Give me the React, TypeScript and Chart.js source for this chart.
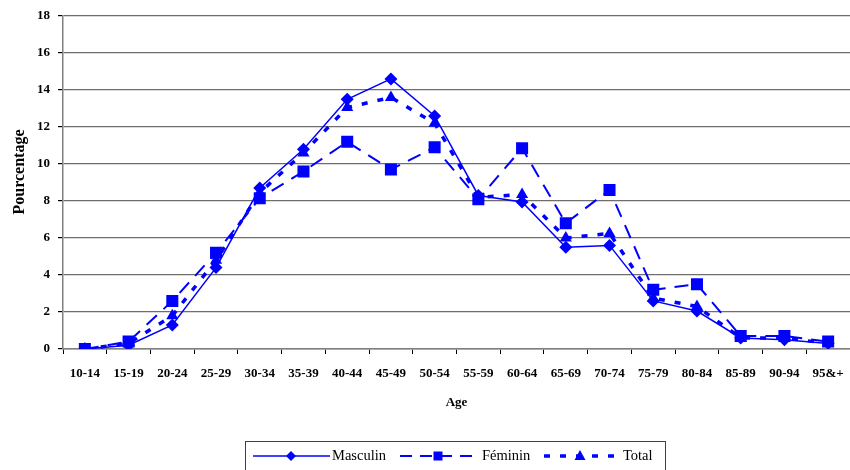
import React, { useEffect, useRef } from "react";
import { Chart, registerables } from "chart.js";

Chart.register(...registerables);

const categories = ["10-14", "15-19", "20-24", "25-29", "30-34", "35-39", "40-44", "45-49", "50-54", "55-59", "60-64", "65-69", "70-74", "75-79", "80-84", "85-89", "90-94", "95&+"];
const masculin = [0.0, 0.2, 1.3, 4.4, 8.7, 10.8, 13.5, 14.6, 12.6, 8.3, 7.95, 5.5, 5.6, 2.6, 2.05, 0.6, 0.5, 0.3];
const feminin = [0.0, 0.4, 2.6, 5.2, 8.15, 9.6, 11.2, 9.7, 10.9, 8.1, 10.85, 6.8, 8.6, 3.2, 3.5, 0.7, 0.7, 0.4];
const total = [0.0, 0.3, 1.8, 4.8, 8.45, 10.6, 13.05, 13.6, 12.2, 8.2, 8.35, 6.0, 6.25, 2.75, 2.3, 0.6, 0.6, 0.3];
const yTicks = [0, 2, 4, 6, 8, 10, 12, 14, 16, 18];
const legendLabels = ["Masculin", "Féminin", "Total"];
const xTitle = "Age";
const yTitle = "Pourcentage";

const BLUE = "#0000ff";
const SERIF = "'Liberation Serif', 'Times New Roman', serif";

const overlayPlugin = {
  id: "overlay",
  afterDraw(chart: any) {
    const ctx = chart.ctx as CanvasRenderingContext2D;
    const area = chart.chartArea;
    ctx.save();
    ctx.fillStyle = "#000";
    ctx.font = `bold 13px ${SERIF}`;
    ctx.textAlign = "center";
    ctx.textBaseline = "middle";
    ctx.fillText(xTitle, (area.left + area.right) / 2, 403);
    ctx.save();
    ctx.translate(20, 172);
    ctx.rotate(-Math.PI / 2);
    ctx.font = `bold 16px ${SERIF}`;
    ctx.fillText(yTitle, 0, 0);
    ctx.restore();

    ctx.strokeStyle = "#404040";
    ctx.lineWidth = 1;
    ctx.strokeRect(245.5, 441.5, 420, 40);

    const y = 456;
    const items = [
      { x0: 253, x1: 330, mx: 291, tx: 332, dash: [] as number[], w: 1.5, marker: "diamond" },
      { x0: 400, x1: 480, mx: 438, tx: 482, dash: [12, 8], w: 2, marker: "square" },
      { x0: 544, x1: 620, mx: 580, tx: 623, dash: [6, 10], w: 3.5, marker: "triangle" },
    ];
    items.forEach((it, i) => {
      ctx.strokeStyle = BLUE;
      ctx.lineWidth = it.w;
      ctx.setLineDash(it.dash);
      ctx.beginPath();
      ctx.moveTo(it.x0, y);
      ctx.lineTo(it.x1, y);
      ctx.stroke();
      ctx.setLineDash([]);
      ctx.fillStyle = BLUE;
      ctx.beginPath();
      if (it.marker === "diamond") {
        ctx.moveTo(it.mx, y - 5);
        ctx.lineTo(it.mx + 5, y);
        ctx.lineTo(it.mx, y + 5);
        ctx.lineTo(it.mx - 5, y);
      } else if (it.marker === "square") {
        ctx.rect(it.mx - 4.5, y - 4.5, 9, 9);
      } else {
        ctx.moveTo(it.mx, y - 6);
        ctx.lineTo(it.mx + 5.5, y + 4);
        ctx.lineTo(it.mx - 5.5, y + 4);
      }
      ctx.closePath();
      ctx.fill();
      ctx.fillStyle = "#000";
      ctx.font = `14.5px ${SERIF}`;
      ctx.textAlign = "left";
      ctx.textBaseline = "middle";
      ctx.fillText(legendLabels[i], it.tx, y);
    });
    ctx.restore();
  },
};

export default function App() {
  const ref = useRef<HTMLCanvasElement | null>(null);
  useEffect(() => {
    document.body.style.margin = "0";
    const canvas = ref.current;
    if (!canvas) return;
    const chart = new Chart(canvas, {
      type: "line",
      data: {
        labels: categories,
        datasets: [
          {
            label: legendLabels[0],
            data: masculin,
            borderColor: BLUE,
            backgroundColor: BLUE,
            borderWidth: 1.5,
            pointStyle: "rectRot",
            pointRadius: 6.5,
            pointBorderWidth: 0,
            tension: 0,
          },
          {
            label: legendLabels[1],
            data: feminin,
            borderColor: BLUE,
            backgroundColor: BLUE,
            borderWidth: 2,
            borderDash: [14, 9],
            pointStyle: "rect",
            pointRadius: 8.5,
            pointBorderWidth: 0,
            tension: 0,
          },
          {
            label: legendLabels[2],
            data: total,
            borderColor: BLUE,
            backgroundColor: BLUE,
            borderWidth: 3.5,
            borderDash: [6, 10],
            pointStyle: "triangle",
            pointRadius: 7,
            pointBorderWidth: 0,
            tension: 0,
          },
        ],
      },
      options: {
        responsive: false,
        animation: false,
        layout: { autoPadding: false, padding: { top: 16, left: 0, right: 0, bottom: 0 } },
        plugins: {
          legend: { display: false },
          tooltip: { enabled: false },
          title: { display: false },
        },
        scales: {
          x: {
            type: "category",
            offset: true,
            grid: {
              offset: true,
              drawOnChartArea: false,
              drawTicks: true,
              tickLength: 5,
              tickColor: "#000",
            },
            border: { color: "#808080", width: 1.5 },
            ticks: {
              font: { family: SERIF, size: 13, weight: "bold" },
              color: "#000",
              padding: 12,
              maxRotation: 0,
              autoSkip: false,
            },
            afterFit: (s: any) => {
              s.height = 121;
              s.paddingLeft = 0;
              s.paddingRight = 0;
            },
          },
          y: {
            min: 0,
            max: 18,
            afterBuildTicks: (s: any) => {
              s.ticks = yTicks.map((v) => ({ value: v }));
            },
            grid: {
              color: "#6e6e6e",
              lineWidth: 1.2,
              tickLength: 5,
              tickColor: "#000",
            },
            border: { color: "#808080", width: 1.5 },
            ticks: {
              font: { family: SERIF, size: 13, weight: "bold" },
              color: "#000",
              padding: 8,
            },
            afterFit: (s: any) => {
              s.width = 63;
            },
          },
        },
      },
      plugins: [overlayPlugin],
    } as any);
    return () => chart.destroy();
  }, []);
  return (
    <div style={{ width: 850, height: 470 }}>
      <canvas ref={ref} width={850} height={470} />
    </div>
  );
}
